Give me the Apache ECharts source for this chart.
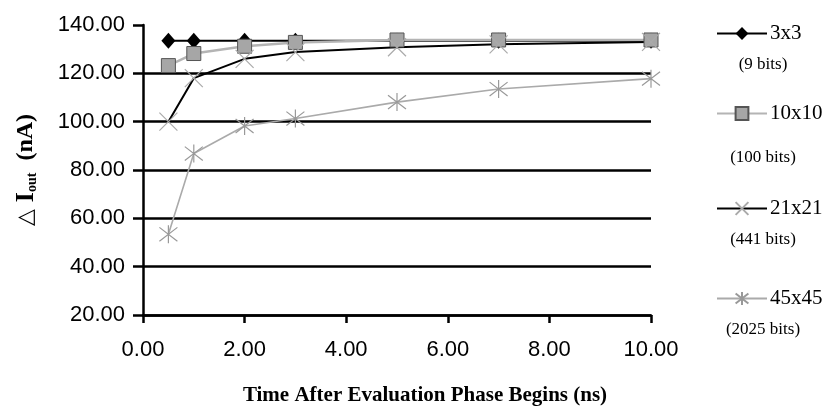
<!DOCTYPE html>
<html>
<head>
<meta charset="utf-8">
<script src="https://cdn.jsdelivr.net/npm/echarts@6/dist/echarts.min.js"></script>
<style>
  html, body { margin: 0; padding: 0; background: #fff; }
  #chart { width: 831px; height: 411px; }
</style>
</head>
<body>
<div id="chart"></div>
<script>
  // time after evaluation phase begins (ns)
  var times = [0.5, 1, 2, 3, 5, 7, 10];
  // delta I_out (nA) per array size
  var s3x3   = [133.5, 133.5, 133.5, 133.5, 133.5, 133.5, 133.5];
  var s10x10 = [123.2, 128.2, 131.2, 132.8, 133.8, 133.8, 133.8];
  var s21x21 = [100.0, 118.0, 126.0, 128.8, 130.8, 132.0, 133.0];
  var s45x45 = [53.4, 86.8, 98.2, 101.3, 108.1, 113.5, 117.8];
  var names = ['3x3', '10x10', '21x21', '45x45'];
  var bits = ['(9 bits)', '(100 bits)', '(441 bits)', '(2025 bits)'];
  var legendTops = [30, 110, 205, 295];
  var bitsTops = [65, 158, 240, 330];

  function pairs(ys) {
    return times.map(function (t, i) { return [t, ys[i]]; });
  }

  var crossPath = 'path://M0,0L20,20M20,0L0,20';
  var starPath = 'path://M0,0L20,20M20,0L0,20M10,-3L10,23';

  var myChart = echarts.init(document.getElementById('chart'));

  // one legend per series so the vertical gaps can follow the picture
  var legends = names.map(function (n, i) {
    return {
      data: [n],
      orient: 'vertical',
      left: 711,
      top: legendTops[i] - 12,
      itemWidth: 50,
      itemHeight: 16,
      itemGap: 0,
      selectedMode: false,
      textStyle: {
        fontFamily: 'Liberation Serif',
        fontSize: 21,
        color: '#000',
        padding: [0, 0, 0, -2]
      }
    };
  });

  var bitTexts = bits.map(function (b, i) {
    return {
      type: 'text',
      x: 763,
      y: bitsTops[i],
      style: {
        text: b,
        fill: '#000',
        font: '17px "Liberation Serif"',
        textAlign: 'center',
        textVerticalAlign: 'middle'
      }
    };
  });

  var option = {
    animation: false,
    backgroundColor: '#fff',
    grid: { left: 143, right: 180, top: 25, bottom: 90 },
    legend: legends,
    graphic: bitTexts,
    xAxis: {
      type: 'value',
      min: 0,
      max: 10,
      interval: 2,
      name: 'Time After Evaluation Phase Begins (ns)',
      nameLocation: 'middle',
      nameGap: 70,
      nameTextStyle: {
        fontFamily: 'Liberation Serif',
        fontWeight: 'bold',
        fontSize: 21,
        color: '#000',
        padding: [0, 0, 0, 56]
      },
      axisLine: { show: true, onZero: false, lineStyle: { color: '#000', width: 2.5 } },
      axisTick: { show: true, inside: false, length: 8, lineStyle: { color: '#000', width: 2.5 } },
      splitLine: { show: false },
      axisLabel: {
        margin: 24,
        fontFamily: 'Liberation Sans',
        fontSize: 22,
        color: '#000',
        formatter: function (v) { return v.toFixed(2); }
      }
    },
    yAxis: {
      type: 'value',
      min: 20,
      max: 140,
      interval: 20,
      name: '{t|△ }{i|I}{s|out}{n|  (nA)}',
      nameLocation: 'middle',
      nameRotate: 90,
      nameGap: 104,
      nameTextStyle: {
        color: '#000',
        rich: {
          t: { fontFamily: 'DejaVu Sans', fontSize: 22, color: '#000' },
          i: { fontFamily: 'Liberation Serif', fontWeight: 'bold', fontSize: 26, color: '#000' },
          s: { fontFamily: 'Liberation Serif', fontWeight: 'bold', fontSize: 14, color: '#000', padding: [12, 0, 0, 0] },
          n: { fontFamily: 'Liberation Serif', fontWeight: 'bold', fontSize: 24, color: '#000' }
        }
      },
      axisLine: { show: true, lineStyle: { color: '#000', width: 2.5 } },
      axisTick: { show: true, inside: false, length: 10, lineStyle: { color: '#000', width: 2.5 } },
      splitLine: {
        show: true,
        showMaxLine: false,
        lineStyle: { color: '#000', width: 2.5 }
      },
      axisLabel: {
        margin: 18,
        fontFamily: 'Liberation Sans',
        fontSize: 22,
        color: '#000',
        formatter: function (v) { return v.toFixed(2); }
      }
    },
    series: [
      {
        name: '3x3',
        type: 'line',
        data: pairs(s3x3),
        symbol: 'diamond',
        symbolSize: [14, 16],
        lineStyle: { color: '#000', width: 2 },
        itemStyle: { color: '#000' }
      },
      {
        name: '10x10',
        type: 'line',
        data: pairs(s10x10),
        symbol: 'rect',
        symbolSize: 14,
        lineStyle: { color: '#b4b4b4', width: 2.5 },
        itemStyle: { color: '#a6a6a6', borderColor: '#555', borderWidth: 1 }
      },
      {
        name: '21x21',
        type: 'line',
        data: pairs(s21x21),
        symbol: crossPath,
        symbolSize: 18,
        lineStyle: { color: '#000', width: 2 },
        itemStyle: { color: 'rgba(0,0,0,0)', borderColor: '#aaa', borderWidth: 1.2 }
      },
      {
        name: '45x45',
        type: 'line',
        data: pairs(s45x45),
        symbol: starPath,
        symbolSize: 18,
        lineStyle: { color: '#aaa', width: 1.6 },
        itemStyle: { color: 'rgba(0,0,0,0)', borderColor: '#999', borderWidth: 1.2 }
      }
    ]
  };

  myChart.setOption(option);
</script>
</body>
</html>
